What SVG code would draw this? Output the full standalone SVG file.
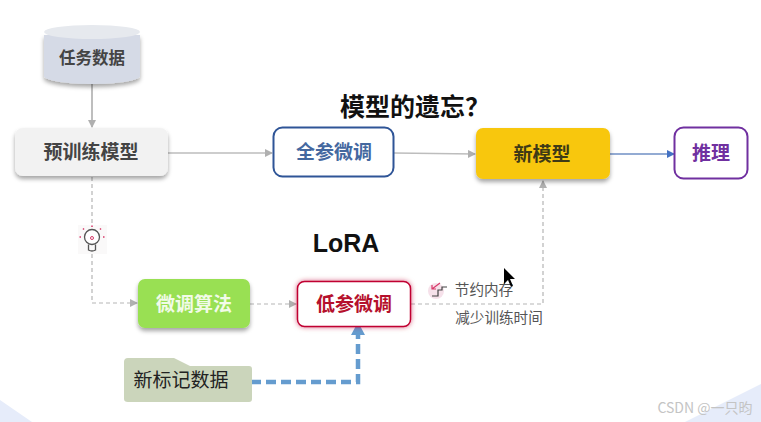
<svg xmlns="http://www.w3.org/2000/svg" width="761" height="422" viewBox="0 0 761 422">
<style>
text{font-family:"Liberation Sans","Noto Sans CJK SC",sans-serif;text-anchor:middle}
.n{font-size:19px;font-weight:700;font-family:"Noto Sans CJK SC",sans-serif}
.s{font-size:14.6px;fill:#555;font-family:"Noto Sans CJK SC",sans-serif}
.g{fill:none;stroke:#bdbdbd;stroke-width:1.5}
.d{fill:none;stroke:#b5b5b5;stroke-width:1.2;stroke-dasharray:4 3}
</style>
<defs>
<marker id="ag" markerWidth="8" markerHeight="8" refX="7" refY="4" orient="auto" markerUnits="userSpaceOnUse"><path d="M0 0L8 4L0 8Z" fill="#b0b0b0"/></marker>
<marker id="ab" markerWidth="8" markerHeight="8" refX="7" refY="4" orient="auto" markerUnits="userSpaceOnUse"><path d="M0 0L8 4L0 8Z" fill="#4472c4"/></marker>
<filter id="sh" x="-15%" y="-20%" width="130%" height="150%"><feDropShadow dx="0" dy="3" stdDeviation="2" flood-color="#000" flood-opacity=".35"/></filter>
<filter id="gl" x="-15%" y="-25%" width="130%" height="150%"><feDropShadow dx="0" dy="0" stdDeviation="2.5" flood-color="#c00030" flood-opacity=".6"/></filter>
</defs>
<rect width="761" height="422" fill="#fff"/>
<path d="M0 400L32 422H0Z" fill="#e6ecfa"/>
<path d="M761 384V422H685Z" fill="#e6ecfa"/>
<g id="connectors">
<path class="g" style="stroke:#a8a8a8" d="M92 84V127" marker-end="url(#ag)"/>
<path class="g" d="M168 153H272" marker-end="url(#ag)"/>
<path class="g" d="M394 153L475 154" marker-end="url(#ag)"/>
<path d="M610 154H674" fill="none" stroke="#6f8fc4" stroke-width="1.5" marker-end="url(#ab)"/>
<path class="d" d="M92 177V227M92 254V303H137" marker-end="url(#ag)"/>
<path class="d" d="M250 304H296" marker-end="url(#ag)"/>
<path class="d" d="M411 304H543V181" marker-end="url(#ag)"/>
<path d="M251 382H358V335" fill="none" stroke="#659ccf" stroke-width="4.500" stroke-dasharray="10 5"/>
<path d="M358 322L365 335H351Z" fill="#659ccf"/>
</g>
<g id="task-data">
<path d="M44 35V76C44 81 70 84 92 84C114 84 140 81 140 76V35Z" fill="#d5dae6" filter="url(#sh)"/>
<ellipse cx="92" cy="32" rx="48" ry="7" fill="#e6e9ee"/>
<text class="n" x="92" y="64" style="font-size:16.5px" fill="#444">任务数据</text>
</g>
<g id="pretrain">
<rect x="15" y="128" width="153" height="48" rx="8" fill="#f2f2f2" filter="url(#sh)"/>
<text class="n" x="91" y="159" fill="#444">预训练模型</text>
</g>
<g id="full-tune">
<rect x="273.500" y="127.500" width="120" height="49" rx="9" fill="#fff" stroke="#2f5597" stroke-width="2"/>
<text class="n" x="334" y="159" fill="#44689f">全参微调</text>
</g>
<g id="new-model">
<rect x="476" y="128" width="134" height="51" rx="7" fill="#f8c70a" filter="url(#sh)"/>
<text class="n" x="542" y="161" fill="#3f3a16">新模型</text>
</g>
<g id="infer">
<rect x="674.500" y="127.500" width="73" height="51" rx="9" fill="#fff" stroke="#7030a0" stroke-width="2"/>
<text class="n" x="711" y="160" fill="#7030a0">推理</text>
</g>
<g id="algo">
<rect x="138" y="279" width="112" height="49" rx="7" fill="#99e053" filter="url(#sh)"/>
<text class="n" x="194" y="311" fill="#f2fbe8">微调算法</text>
</g>
<g id="low-tune">
<rect x="297.500" y="281.500" width="113" height="45" rx="7" fill="#fff" stroke="#c00030" stroke-width="1.5" filter="url(#gl)"/>
<text class="n" x="354" y="311" fill="#b5102c">低参微调</text>
</g>
<g id="new-data">
<path d="M124 362Q124 358 128 358H174L190 366H249Q252 366 252 369V399Q252 402 249 402H128Q124 402 124 399Z" fill="#cbd5bb"/>
<text x="181" y="387" style="font-size:19px;font-family:'Noto Sans CJK SC',sans-serif" fill="#222">新标记数据</text>
</g>
<g id="bulb">
<rect x="78" y="225" width="29" height="29" fill="#faf9f9"/>
<circle cx="92" cy="237" r="7.500" fill="#fff" stroke="#555" stroke-width="1.300"/>
<path d="M88.500 244.500V250Q92 252 95.500 250V244.500" fill="none" stroke="#555" stroke-width="1.300"/>
<circle cx="92" cy="238" r="1.500" fill="none" stroke="#d83a6a"/>
<path d="M92 225.500v1.500M83 228.500l1 1M101 228.500l-1 1M79.500 237h1.500M104.500 237h-1.500" stroke="#d83a6a" stroke-width="1.500"/>
</g>
<g id="stairs">
<circle cx="436" cy="291" r="8" fill="#f6e1ea"/>
<path d="M432 296H438V290H442V287H447" fill="none" stroke="#444" stroke-width="1.200"/>
<path d="M440 283L432 289M432 285V289H436" fill="none" stroke="#d83a6a" stroke-width="1.200"/>
</g>
<text x="346" y="252" style="font-size:25px;font-weight:700" fill="#111">LoRA</text>
<text x="415" y="116" style="font-size:25px;font-weight:700;font-family:'Noto Sans CJK SC',sans-serif" fill="#111">模型的遗忘？</text>
<text class="s" x="484" y="295">节约内存</text>
<text class="s" x="499" y="323">减少训练时间</text>
<path d="M504 268V284L508 280L511 287L513 286L510 279H515Z" fill="#000"/>
<text x="705" y="413" style="font-size:14px;font-family:'Noto Sans CJK SC',sans-serif" fill="#c4c4c4">CSDN @一只昀</text>
</svg>
